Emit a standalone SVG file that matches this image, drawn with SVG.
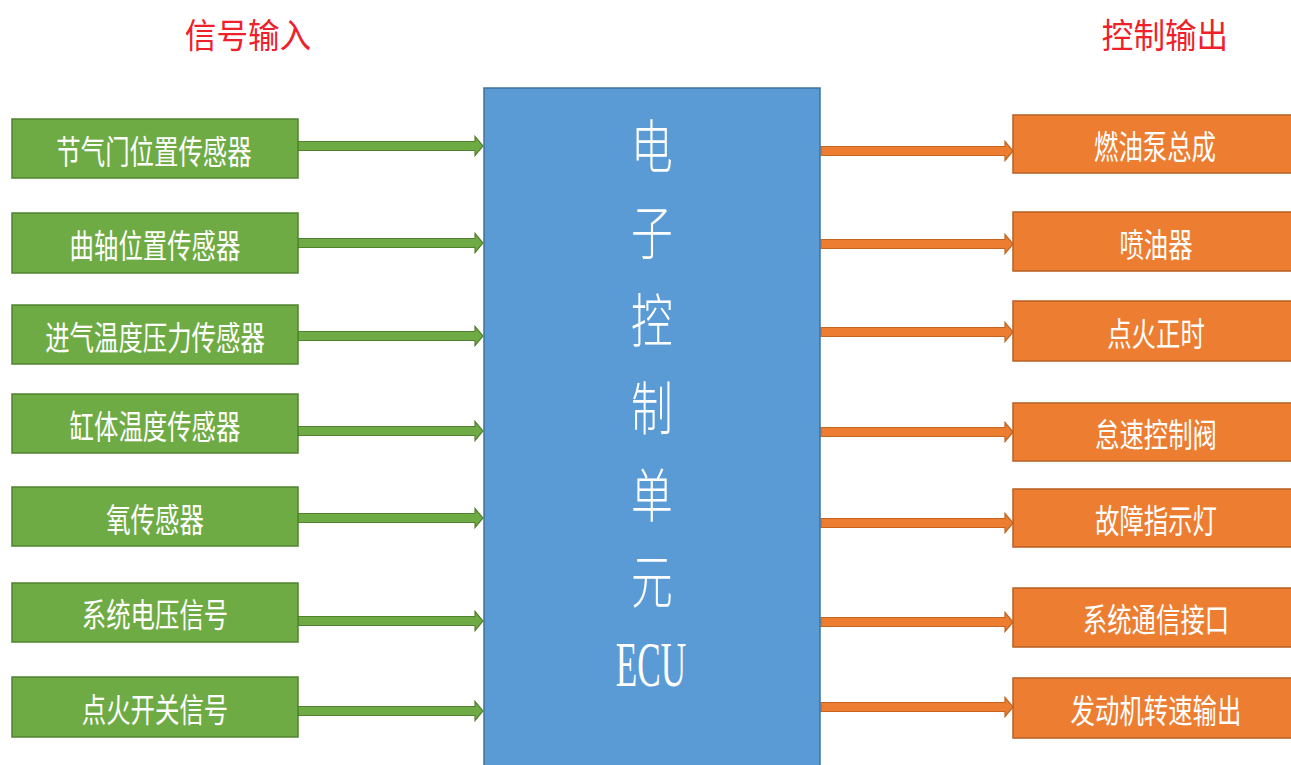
<svg xmlns="http://www.w3.org/2000/svg" width="1291" height="765" viewBox="0 0 1291 765">
<style>
  .title { font-family: "Noto Sans CJK SC", sans-serif; font-size: 34px; fill: #f0202a; }
  .in rect { fill: #6fab45; stroke: #52822f; stroke-width: 1.5; }
  .out rect { fill: #ed7d31; stroke: #b85f22; stroke-width: 1.5; }
  .lbl { font-family: "Noto Sans CJK SC", sans-serif; font-size: 33px; fill: #ffffff; text-anchor: middle; dominant-baseline: central; }
  .ga { fill: #6fab45; stroke: #52822f; stroke-width: 1.2; }
  .oa { fill: #ed7d31; stroke: #c4641f; stroke-width: 1.2; }
  .ecu rect { fill: #5b9bd5; stroke: #41719c; stroke-width: 1.5; }
  .big { font-family: "Noto Sans CJK SC", sans-serif; font-size: 58px; font-weight: 300; fill: #ffffff; text-anchor: middle; dominant-baseline: central; }
  .ecut { font-family: "Liberation Serif", serif; font-size: 64px; fill: #ffffff; text-anchor: middle; }
</style>
<defs>
  <path id="garrow" d="M0,-4.5 H177 V-9.5 L185,0 L177,9.5 V4.5 H0 Z"/>
  <path id="oarrow" d="M0,-4.5 H184 V-9.5 L192,0 L184,9.5 V4.5 H0 Z"/>
</defs>
<rect width="1291" height="765" fill="#ffffff"/>

<text class="title" transform="translate(248,48) scale(0.93,1)" text-anchor="middle">信号输入</text>
<text class="title" transform="translate(1165,48) scale(0.93,1)" text-anchor="middle">控制输出</text>

<g id="connectors">
  <use href="#garrow" class="ga" x="298" y="146"/>
  <use href="#garrow" class="ga" x="298" y="243"/>
  <use href="#garrow" class="ga" x="298" y="336"/>
  <use href="#garrow" class="ga" x="298" y="431"/>
  <use href="#garrow" class="ga" x="298" y="518"/>
  <use href="#garrow" class="ga" x="298" y="621"/>
  <use href="#garrow" class="ga" x="298" y="711"/>
  <use href="#oarrow" class="oa" x="821" y="151"/>
  <use href="#oarrow" class="oa" x="821" y="244"/>
  <use href="#oarrow" class="oa" x="821" y="332"/>
  <use href="#oarrow" class="oa" x="821" y="432"/>
  <use href="#oarrow" class="oa" x="821" y="523"/>
  <use href="#oarrow" class="oa" x="821" y="622"/>
  <use href="#oarrow" class="oa" x="821" y="707"/>
</g>

<g id="ecu" class="ecu">
  <rect x="484" y="88" width="336" height="680"/>
  <text class="big" transform="translate(652,143) scale(0.72,1)">电</text>
  <text class="big" transform="translate(652,229) scale(0.72,1)">子</text>
  <text class="big" transform="translate(652,317) scale(0.72,1)">控</text>
  <text class="big" transform="translate(652,405) scale(0.72,1)">制</text>
  <text class="big" transform="translate(652,492) scale(0.72,1)">单</text>
  <text class="big" transform="translate(652,578) scale(0.72,1)">元</text>
  <text class="ecut" transform="translate(651,686) scale(0.55,1)">ECU</text>
</g>

<g id="in1" class="in"><rect x="12" y="119" width="286" height="59"/><text class="lbl" transform="translate(154,149) scale(0.74,1)">节气门位置传感器</text></g>
<g id="in2" class="in"><rect x="12" y="213" width="286" height="60"/><text class="lbl" transform="translate(155,243) scale(0.74,1)">曲轴位置传感器</text></g>
<g id="in3" class="in"><rect x="12" y="305" width="286" height="59"/><text class="lbl" transform="translate(155,335) scale(0.74,1)">进气温度压力传感器</text></g>
<g id="in4" class="in"><rect x="12" y="394" width="286" height="59"/><text class="lbl" transform="translate(155,424) scale(0.74,1)">缸体温度传感器</text></g>
<g id="in5" class="in"><rect x="12" y="487" width="286" height="59"/><text class="lbl" transform="translate(155,517) scale(0.74,1)">氧传感器</text></g>
<g id="in6" class="in"><rect x="12" y="583" width="286" height="59"/><text class="lbl" transform="translate(155,612) scale(0.74,1)">系统电压信号</text></g>
<g id="in7" class="in"><rect x="12" y="677" width="286" height="60"/><text class="lbl" transform="translate(155,707) scale(0.74,1)">点火开关信号</text></g>

<g id="out1" class="out"><rect x="1013" y="115" width="290" height="58"/><text class="lbl" transform="translate(1155,144) scale(0.74,1)">燃油泵总成</text></g>
<g id="out2" class="out"><rect x="1013" y="212" width="290" height="59"/><text class="lbl" transform="translate(1156,242) scale(0.74,1)">喷油器</text></g>
<g id="out3" class="out"><rect x="1013" y="301" width="290" height="60"/><text class="lbl" transform="translate(1156,331) scale(0.74,1)">点火正时</text></g>
<g id="out4" class="out"><rect x="1013" y="403" width="290" height="58"/><text class="lbl" transform="translate(1156,432) scale(0.74,1)">怠速控制阀</text></g>
<g id="out5" class="out"><rect x="1013" y="489" width="290" height="58"/><text class="lbl" transform="translate(1156,518) scale(0.74,1)">故障指示灯</text></g>
<g id="out6" class="out"><rect x="1013" y="588" width="290" height="59"/><text class="lbl" transform="translate(1156,617) scale(0.74,1)">系统通信接口</text></g>
<g id="out7" class="out"><rect x="1013" y="678" width="290" height="60"/><text class="lbl" transform="translate(1156,708) scale(0.74,1)">发动机转速输出</text></g>
</svg>
